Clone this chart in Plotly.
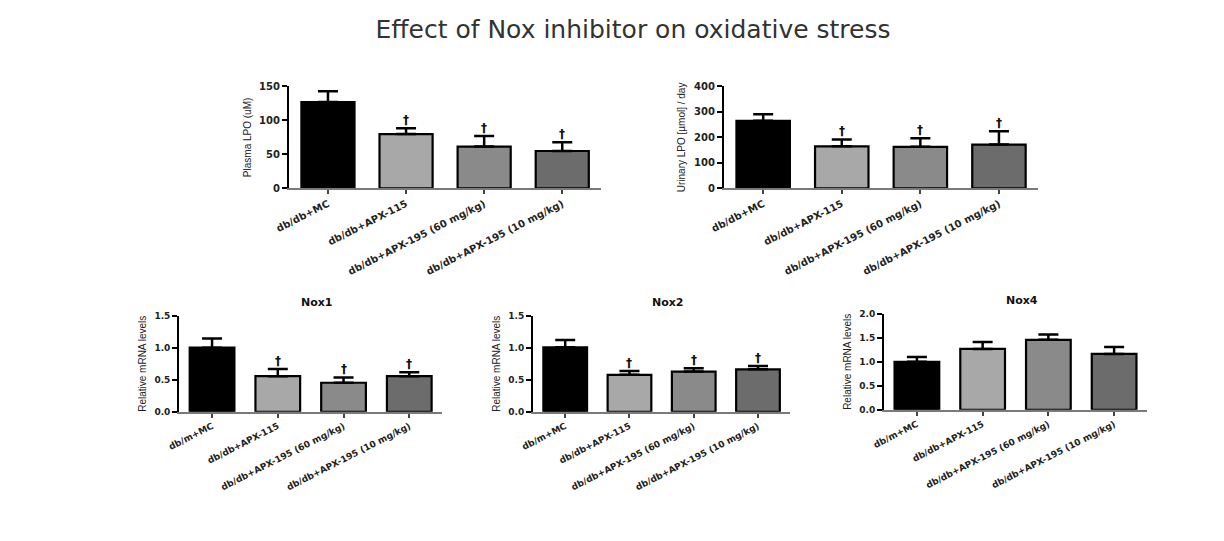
import plotly.graph_objects as go

# ---------------- data ----------------
top_categories = ["db/db+MC", "db/db+APX-115", "db/db+APX-195 (60 mg/kg)", "db/db+APX-195 (10 mg/kg)"]
bottom_categories = ["db/m+MC", "db/db+APX-115", "db/db+APX-195 (60 mg/kg)", "db/db+APX-195 (10 mg/kg)"]

plasma_lpo = [127, 80, 61.5, 55]
plasma_lpo_err = [16, 8.5, 15.5, 13]
plasma_sig = [False, True, True, True]

urinary_lpo = [265, 165, 163, 172]
urinary_lpo_err = [26, 27, 34, 52]
urinary_sig = [False, True, True, True]

nox1 = [1.00, 0.555, 0.453, 0.555]
nox1_err = [0.146, 0.113, 0.082, 0.061]
nox1_sig = [False, True, True, True]

nox2 = [1.007, 0.576, 0.627, 0.662]
nox2_err = [0.113, 0.061, 0.051, 0.052]
nox2_sig = [False, True, True, True]

nox4 = [1.00, 1.267, 1.458, 1.164]
nox4_err = [0.10, 0.143, 0.11, 0.144]
nox4_sig = [False, False, False, False]

bar_colors = ["#000000", "#a8a8a8", "#8a8a8a", "#6c6c6c"]

main_title = "Effect of Nox inhibitor on oxidative stress"

W, H = 1224, 541

panels = [
    dict(cats=top_categories, vals=plasma_lpo, errs=plasma_lpo_err, sig=plasma_sig,
         ytitle="Plasma LPO (uM)", yrange=[0, 150], dtick=50, fmt="d",
         px=(270, 586), py=(75, 179), title=None, lab=10, tick=10),
    dict(cats=top_categories, vals=urinary_lpo, errs=urinary_lpo_err, sig=urinary_sig,
         ytitle="Urinary LPO [µmol] / day", yrange=[0, 400], dtick=100, fmt="d",
         px=(710, 1028), py=(75, 179), title=None, lab=10, tick=10),
    dict(cats=bottom_categories, vals=nox1, errs=nox1_err, sig=nox1_sig,
         ytitle="Relative mRNA levels", yrange=[0, 1.5], dtick=0.5, fmt=".1f",
         px=(159, 425), py=(309, 407), title="Nox1", lab=9, tick=9),
    dict(cats=bottom_categories, vals=nox2, errs=nox2_err, sig=nox2_sig,
         ytitle="Relative mRNA levels", yrange=[0, 1.5], dtick=0.5, fmt=".1f",
         px=(517, 777), py=(309, 407), title="Nox2", lab=9, tick=9),
    dict(cats=bottom_categories, vals=nox4, errs=nox4_err, sig=nox4_sig,
         ytitle="Relative mRNA levels", yrange=[0, 2.0], dtick=0.5, fmt=".1f",
         px=(872, 1138), py=(307, 405), title="Nox4", lab=9, tick=9),
]

fig = go.Figure()
annotations = []
layout = {}

for i, p in enumerate(panels, start=1):
    xa = "x" if i == 1 else f"x{i}"
    ya = "y" if i == 1 else f"y{i}"
    xkey = "xaxis" if i == 1 else f"xaxis{i}"
    ykey = "yaxis" if i == 1 else f"yaxis{i}"

    fig.add_trace(go.Bar(
        x=p["cats"], y=p["vals"],
        marker=dict(color=bar_colors, line=dict(color="#000000", width=2.2)),
        error_y=dict(type="data", array=p["errs"], arrayminus=[0] * len(p["errs"]),
                     symmetric=False, color="#000000", thickness=2.5, width=10),
        xaxis=xa, yaxis=ya, showlegend=False,
    ))

    dom_x = [p["px"][0] / W, p["px"][1] / W]
    dom_y = [1 - p["py"][1] / H, 1 - p["py"][0] / H]

    layout[xkey] = dict(
        domain=dom_x, anchor=ya, type="category", range=[-0.5, 3.5],
        showline=True, linecolor="#7a7a7a", linewidth=2,
        ticks="outside", ticklen=4, tickwidth=1.5, tickcolor="#444444",
        tickangle=-27,
        tickfont=dict(family="DejaVu Sans", size=p["lab"], color="#222222", weight="bold"),
        showgrid=False, zeroline=False, fixedrange=True,
    )
    layout[ykey] = dict(
        domain=dom_y, anchor=xa, range=p["yrange"], dtick=p["dtick"], tick0=0,
        tickformat=p["fmt"],
        showline=True, linecolor="#000000", linewidth=2,
        ticks="outside", ticklen=5, tickwidth=1.5, tickcolor="#000000",
        tickfont=dict(family="DejaVu Sans", size=p["tick"], color="#222222", weight="bold"),
        title=dict(text=p["ytitle"], standoff=6,
                   font=dict(family="Liberation Sans", size=10, color="#222222")),
        showgrid=False, zeroline=False, fixedrange=True,
    )

    for c, v, e, s in zip(p["cats"], p["vals"], p["errs"], p["sig"]):
        if s:
            annotations.append(dict(
                x=c, y=v + e, xref=xa, yref=ya, text="†", showarrow=False,
                yshift=8, yanchor="middle",
                font=dict(family="DejaVu Sans", size=12, color="#111111", weight="bold"),
            ))

    if p["title"]:
        annotations.append(dict(
            x=(dom_x[0] + dom_x[1]) / 2 + 0.005, y=dom_y[1] + 14 / H,
            xref="paper", yref="paper", text=p["title"], showarrow=False,
            yanchor="middle", xanchor="center",
            font=dict(family="DejaVu Sans", size=11, color="#111111", weight="bold"),
        ))

fig.update_layout(
    width=W, height=H,
    margin=dict(l=0, r=0, t=0, b=0),
    paper_bgcolor="white", plot_bgcolor="white",
    bargap=0.32,
    title=dict(text=main_title, x=625 / W, xanchor="center", y=1 - 21 / H, yanchor="middle",
               font=dict(family="DejaVu Sans", size=25, color="#333333")),
    annotations=annotations,
    **layout,
)

fig.write_html("out.html")
